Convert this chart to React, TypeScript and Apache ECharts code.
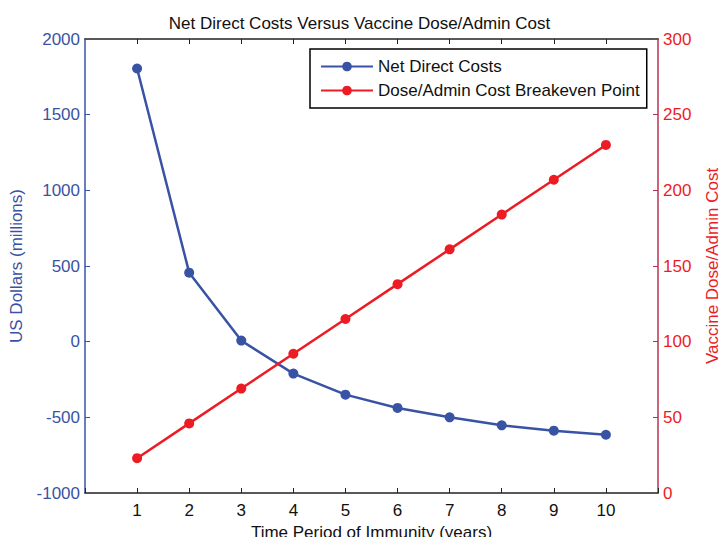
import React, { useEffect, useRef } from "react";
import * as echarts from "echarts";

const years = [1, 2, 3, 4, 5, 6, 7, 8, 9, 10];
const netDirectCosts = [1805, 456, 7, -211, -350, -438, -500, -553, -588, -615];
const breakevenCost = [23, 46, 69, 92, 115, 138, 161, 184, 207, 230];
const leftTicks = [-1000, -500, 0, 500, 1000, 1500, 2000];
const rightTicks = [0, 50, 100, 150, 200, 250, 300];

const BLUE = "#3953a4";
const RED = "#ed1c24";
const RED_AXIS = "#b8334f";
const FONT = "Liberation Sans, Arial, sans-serif";
const FS = 17;

export default function App() {
  const ref = useRef<HTMLDivElement>(null);
  useEffect(() => {
    const chart = echarts.init(ref.current!, undefined, { renderer: "svg" });
    chart.setOption({
      animation: false,
      backgroundColor: "#ffffff",
      textStyle: { fontFamily: FONT },
      title: {
        text: "Net Direct Costs Versus Vaccine Dose/Admin Cost",
        left: "center",
        top: 10,
        textStyle: { fontSize: FS, fontWeight: "normal", color: "#111", fontFamily: FONT },
      },
      grid: { left: 85, right: 61, top: 39, bottom: 44, outerBoundsMode: "none", containLabel: false },
      legend: {
        orient: "vertical",
        left: 310,
        top: 49,
        itemWidth: 52,
        itemHeight: 12,
        itemGap: 7,
        padding: [9, 7, 9, 10],
        borderColor: "#000",
        borderWidth: 1.5,
        backgroundColor: "#fff",
        textStyle: { fontSize: FS, color: "#111", fontFamily: FONT },
        data: ["Net Direct Costs", "Dose/Admin Cost Breakeven Point"],
      },
      xAxis: [
        {
          type: "value",
          min: 0,
          max: 11,
          interval: 1,
          position: "bottom",
          name: "Time Period of Immunity (years)",
          nameLocation: "middle",
          nameGap: 28,
          nameTextStyle: { fontSize: FS, color: "#111", fontFamily: FONT },
          axisLine: { onZero: false, lineStyle: { color: "#222", width: 1.5 } },
          axisTick: { inside: true, length: 5, lineStyle: { color: "#222" } },
          axisLabel: {
            fontSize: FS,
            color: "#111",
            margin: 9,
            formatter: (v: number) => (years.indexOf(v) >= 0 ? String(v) : ""),
          },
          splitLine: { show: false },
        },
        {
          type: "value",
          min: 0,
          max: 11,
          interval: 1,
          position: "top",
          axisLine: { show: true, onZero: false, lineStyle: { color: "#222", width: 1.5 } },
          axisTick: {
            show: true,
            inside: true,
            length: 5,
            lineStyle: { color: "#222" },
            customValues: years,
          },
          axisLabel: { show: false },
          splitLine: { show: false },
        },
      ],
      yAxis: [
        {
          type: "value",
          min: leftTicks[0],
          max: leftTicks[leftTicks.length - 1],
          interval: 500,
          position: "left",
          name: "US Dollars (millions)",
          nameLocation: "middle",
          nameGap: 60,
          nameTextStyle: { fontSize: FS, color: BLUE, fontFamily: FONT },
          axisLine: { show: true, onZero: false, lineStyle: { color: BLUE, width: 1.5 } },
          axisTick: { show: true, inside: true, length: 5, lineStyle: { color: BLUE } },
          axisLabel: { fontSize: FS, color: BLUE, margin: 5, formatter: (v: number) => String(v) },
          splitLine: { show: false },
        },
        {
          type: "value",
          min: rightTicks[0],
          max: rightTicks[rightTicks.length - 1],
          interval: 50,
          position: "right",
          name: "Vaccine Dose/Admin Cost",
          nameLocation: "middle",
          nameGap: 46,
          nameRotate: 90,
          nameTextStyle: { fontSize: FS, color: RED, fontFamily: FONT },
          axisLine: { show: true, onZero: false, lineStyle: { color: RED_AXIS, width: 1.5 } },
          axisTick: { show: true, inside: true, length: 5, lineStyle: { color: RED_AXIS } },
          axisLabel: { fontSize: FS, color: RED, margin: 5, formatter: (v: number) => String(v) },
          splitLine: { show: false },
        },
      ],
      series: [
        {
          name: "Net Direct Costs",
          type: "line",
          xAxisIndex: 0,
          yAxisIndex: 0,
          data: years.map((y, i) => [y, netDirectCosts[i]]),
          symbol: "circle",
          symbolSize: 10,
          lineStyle: { color: BLUE, width: 2.5 },
          itemStyle: { color: BLUE },
        },
        {
          name: "Dose/Admin Cost Breakeven Point",
          type: "line",
          xAxisIndex: 0,
          yAxisIndex: 1,
          data: years.map((y, i) => [y, breakevenCost[i]]),
          symbol: "circle",
          symbolSize: 10,
          lineStyle: { color: RED, width: 2.5 },
          itemStyle: { color: RED },
        },
      ],
    });
    return () => chart.dispose();
  }, []);
  return (
    <div
      ref={ref}
      style={{ position: "absolute", left: 0, top: 0, width: 719, height: 537 }}
    />
  );
}
